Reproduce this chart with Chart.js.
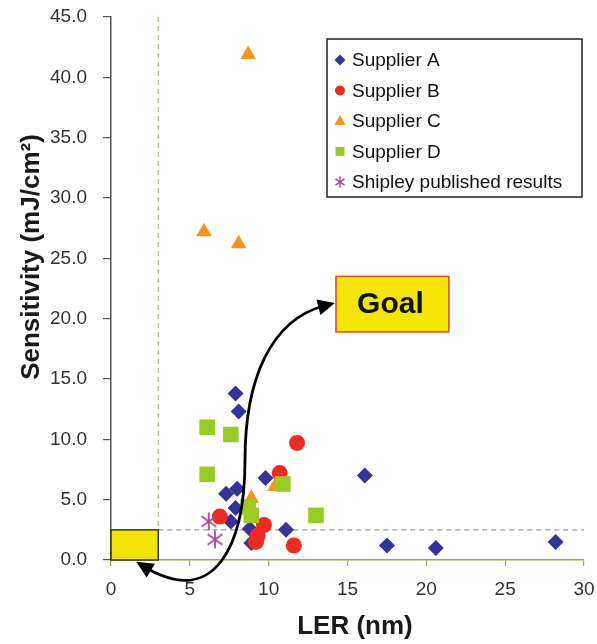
<!DOCTYPE html>
<html>
<head>
<meta charset="utf-8">
<script src="https://cdn.jsdelivr.net/npm/chart.js@4/dist/chart.umd.min.js"></script>
<style>
  html, body { margin: 0; padding: 0; background: #fff; }
  #wrap { width: 597px; height: 644px; }
</style>
</head>
<body>
<div id="wrap"><canvas id="chart" width="597" height="644"></canvas></div>
<script>
// LER (nm) / sensitivity (mJ/cm2)
const supplierA = [
  [7.9, 13.8], [8.1, 12.3], [9.8, 6.8], [8.0, 5.9], [7.3, 5.5], [7.9, 4.3], [7.6, 3.2],
  [8.8, 2.6], [11.1, 2.5], [8.9, 1.4], [16.1, 7.0], [17.5, 1.2], [20.6, 1.0], [28.2, 1.5],
];
const supplierB = [[11.8, 9.7], [10.7, 7.2], [6.9, 3.6], [9.7, 2.9], [9.3, 2.0], [9.2, 1.5], [11.6, 1.2]];
const supplierC = [[8.7, 41.9], [5.9, 27.2], [8.1, 26.2], [8.9, 5.1], [10.4, 6.1]];
const supplierD = [[6.1, 11.0], [7.6, 10.4], [6.1, 7.1], [10.9, 6.3], [8.7, 4.4], [8.9, 3.7], [13.0, 3.7]];
const shipley = [[6.2, 3.2], [6.6, 1.7]];

const seriesNames = ['Supplier A', 'Supplier B', 'Supplier C', 'Supplier D', 'Shipley published results'];
const xTicks = [0, 5, 10, 15, 20, 25, 30];
const yTicks = [0, 5, 10, 15, 20, 25, 30, 35, 40, 45];

// target region and goal box, in data units
const targetLER = 3;
const targetSens = 2.5;
const goalLER = [14.27, 21.43];
const goalSens = [18.9, 23.5];
// double arrow from goal box down to target box (two cubic curves)
const arrowPath = [
  [14.2, 21.3], [10.1, 19.9], [8.5, 14.9], [8.5, 8.3],
  [8.5, 1.24], [6.6, -4.1], [1.6, -0.15],
];

const colors = ['#333399', '#ee2a22', '#f7941d', '#99cc22', '#a04aa0'];

function asterisk(r, color, lw) {
  const s = Math.ceil(r * 2 + lw * 2);
  const c = document.createElement('canvas');
  c.width = c.height = s;
  const g = c.getContext('2d');
  g.strokeStyle = color;
  g.lineWidth = lw;
  g.beginPath();
  [90, 35, 145].forEach((a) => {
    const rad = a * Math.PI / 180;
    g.moveTo(s / 2 - r * Math.cos(rad), s / 2 - r * Math.sin(rad));
    g.lineTo(s / 2 + r * Math.cos(rad), s / 2 + r * Math.sin(rad));
  });
  g.stroke();
  return c;
}

const starBig = asterisk(9, colors[4], 1.8);
const starSmall = asterisk(5.5, colors[4], 1.4);

const toXY = (arr) => arr.map(([x, y]) => ({ x, y }));

function drawMarker(ctx, kind, x, y) {
  ctx.save();
  ctx.fillStyle = colors[kind];
  ctx.beginPath();
  if (kind === 0) {
    ctx.moveTo(x, y - 5.5); ctx.lineTo(x + 5.5, y); ctx.lineTo(x, y + 5.5); ctx.lineTo(x - 5.5, y);
  } else if (kind === 1) {
    ctx.arc(x, y, 5, 0, Math.PI * 2);
  } else if (kind === 2) {
    ctx.moveTo(x, y - 6); ctx.lineTo(x + 5.5, y + 4); ctx.lineTo(x - 5.5, y + 4);
  } else if (kind === 3) {
    ctx.rect(x - 4.5, y - 4.5, 9, 9);
  } else {
    ctx.drawImage(starSmall, x - starSmall.width / 2, y - starSmall.height / 2);
    ctx.restore();
    return;
  }
  ctx.closePath();
  ctx.fill();
  ctx.restore();
}

function arrowHead(ctx, tipX, tipY, fromX, fromY) {
  const ang = Math.atan2(tipY - fromY, tipX - fromX);
  const len = 17, half = 8;
  ctx.beginPath();
  ctx.moveTo(tipX, tipY);
  ctx.lineTo(tipX - len * Math.cos(ang) - half * Math.sin(ang), tipY - len * Math.sin(ang) + half * Math.cos(ang));
  ctx.lineTo(tipX - len * Math.cos(ang) + half * Math.sin(ang), tipY - len * Math.sin(ang) - half * Math.cos(ang));
  ctx.closePath();
  ctx.fill();
}

const overlay = {
  id: 'overlay',
  beforeDatasetsDraw(chart) {
    const { ctx, scales: { x, y }, chartArea } = chart;
    const bx = x.getPixelForValue(targetLER);
    const by = y.getPixelForValue(targetSens);
    ctx.save();
    ctx.setLineDash([5, 4]);
    ctx.lineWidth = 1.2;
    ctx.strokeStyle = '#b4b478';
    ctx.beginPath();
    ctx.moveTo(bx, chartArea.top);
    ctx.lineTo(bx, by);
    ctx.stroke();
    ctx.strokeStyle = '#9a9a9a';
    ctx.beginPath();
    ctx.moveTo(bx, by);
    ctx.lineTo(chartArea.right, by);
    ctx.stroke();
    ctx.setLineDash([]);
    ctx.fillStyle = '#f2e400';
    ctx.strokeStyle = '#333';
    ctx.lineWidth = 1.5;
    const x0 = x.getPixelForValue(0), y0 = y.getPixelForValue(0);
    ctx.fillRect(x0, by, bx - x0, y0 - by);
    ctx.strokeRect(x0, by, bx - x0, y0 - by);
    ctx.restore();
  },
  afterDatasetsDraw(chart) {
    const { ctx, scales: { x, y } } = chart;
    const p = arrowPath.map(([a, b]) => [x.getPixelForValue(a), y.getPixelForValue(b)]);
    ctx.save();
    ctx.strokeStyle = '#000';
    ctx.fillStyle = '#000';
    ctx.lineWidth = 2.8;
    ctx.beginPath();
    ctx.moveTo(p[0][0] - 10, p[0][1] + 2.5);
    ctx.bezierCurveTo(p[1][0], p[1][1], p[2][0], p[2][1], p[3][0], p[3][1]);
    ctx.bezierCurveTo(p[4][0], p[4][1], p[5][0], p[5][1], p[6][0] + 8, p[6][1] + 5);
    ctx.stroke();
    arrowHead(ctx, p[0][0], p[0][1], p[1][0], p[1][1]);
    arrowHead(ctx, p[6][0], p[6][1], p[5][0], p[5][1]);

    // goal box
    const gx0 = x.getPixelForValue(goalLER[0]), gx1 = x.getPixelForValue(goalLER[1]);
    const gy0 = y.getPixelForValue(goalSens[1]), gy1 = y.getPixelForValue(goalSens[0]);
    ctx.fillStyle = '#f5e600';
    ctx.fillRect(gx0, gy0, gx1 - gx0, gy1 - gy0);
    ctx.strokeStyle = '#e0502a';
    ctx.lineWidth = 1.6;
    ctx.strokeRect(gx0, gy0, gx1 - gx0, gy1 - gy0);
    ctx.fillStyle = '#111';
    ctx.font = 'bold 30px "Liberation Sans", Arial, sans-serif';
    ctx.textAlign = 'center';
    ctx.textBaseline = 'middle';
    ctx.fillText('Goal', (gx0 + gx1) / 2 - 2, (gy0 + gy1) / 2 + 1);
    ctx.restore();
  },
  afterDraw(chart) {
    const { ctx } = chart;
    ctx.save();
    // axis titles
    ctx.fillStyle = '#1a1a1a';
    ctx.font = 'bold 26px "Liberation Sans", Arial, sans-serif';
    ctx.textAlign = 'center';
    ctx.textBaseline = 'middle';
    ctx.fillText('LER (nm)', 355, 627);
    ctx.translate(32, 257);
    ctx.rotate(-Math.PI / 2);
    ctx.fillText('Sensitivity (mJ/cm²)', 0, 0);
    ctx.restore();

    // legend
    ctx.save();
    const lx = 327, ly = 39, lw = 255, lh = 158;
    ctx.fillStyle = '#fff';
    ctx.fillRect(lx, ly, lw, lh);
    ctx.strokeStyle = '#222';
    ctx.lineWidth = 1.5;
    ctx.strokeRect(lx, ly, lw, lh);
    ctx.font = '19px "Liberation Sans", Arial, sans-serif';
    ctx.textBaseline = 'middle';
    seriesNames.forEach((name, i) => {
      const rowY = ly + 21 + i * 30.5;
      drawMarker(ctx, i, lx + 13, rowY);
      ctx.fillStyle = '#111';
      ctx.fillText(name, lx + 25, rowY + 1);
    });
    ctx.restore();
  },
};

const tickFont = { family: '"Liberation Sans", Arial, sans-serif', size: 19 };

new Chart(document.getElementById('chart'), {
  type: 'scatter',
  data: {
    datasets: [
      { label: seriesNames[0], data: toXY(supplierA), pointStyle: 'rectRot', pointRadius: 8, backgroundColor: colors[0], borderColor: colors[0], borderWidth: 0, order: 5 },
      { label: seriesNames[1], data: toXY(supplierB), pointStyle: 'circle', pointRadius: 8, backgroundColor: colors[1], borderColor: colors[1], borderWidth: 0, order: 4 },
      { label: seriesNames[2], data: toXY(supplierC), pointStyle: 'triangle', pointRadius: 9, backgroundColor: colors[2], borderColor: colors[2], borderWidth: 0, order: 3 },
      { label: seriesNames[3], data: toXY(supplierD), pointStyle: 'rect', pointRadius: 11, backgroundColor: colors[3], borderColor: colors[3], borderWidth: 0, order: 2 },
      { label: seriesNames[4], data: toXY(shipley), pointStyle: starBig, pointRadius: 8, backgroundColor: colors[4], borderColor: colors[4], order: 1 },
    ],
  },
  options: {
    responsive: false,
    animation: false,
    layout: { autoPadding: false, padding: { top: 17, right: 13, left: 0, bottom: 0 } },
    plugins: {
      legend: { display: false },
      tooltip: { enabled: false },
    },
    scales: {
      x: {
        type: 'linear',
        min: 0,
        max: 30,
        afterBuildTicks(scale) { scale.ticks = xTicks.map((value) => ({ value })); },
        afterFit(scale) {
          scale.height = 84;
          scale.paddingLeft = 0;
          scale.paddingRight = 0;
        },
        ticks: { font: tickFont, color: '#333', padding: 12, maxRotation: 0 },
        grid: { drawOnChartArea: false, tickLength: 6, color: '#a3a35a', lineWidth: 1.2 },
        border: { color: '#a3a35a', width: 1.5 },
      },
      y: {
        type: 'linear',
        min: 0,
        max: 45,
        afterBuildTicks(scale) { scale.ticks = yTicks.map((value) => ({ value })); },
        afterFit(scale) {
          scale.width = 111;
          scale.paddingTop = 0;
          scale.paddingBottom = 0;
        },
        ticks: { font: tickFont, color: '#333', padding: 16, callback: (v) => Number(v).toFixed(1) },
        grid: { drawOnChartArea: false, tickLength: 8, color: '#555', lineWidth: 1.2 },
        border: { color: '#555', width: 1.5 },
      },
    },
  },
  plugins: [overlay],
});
</script>
</body>
</html>
